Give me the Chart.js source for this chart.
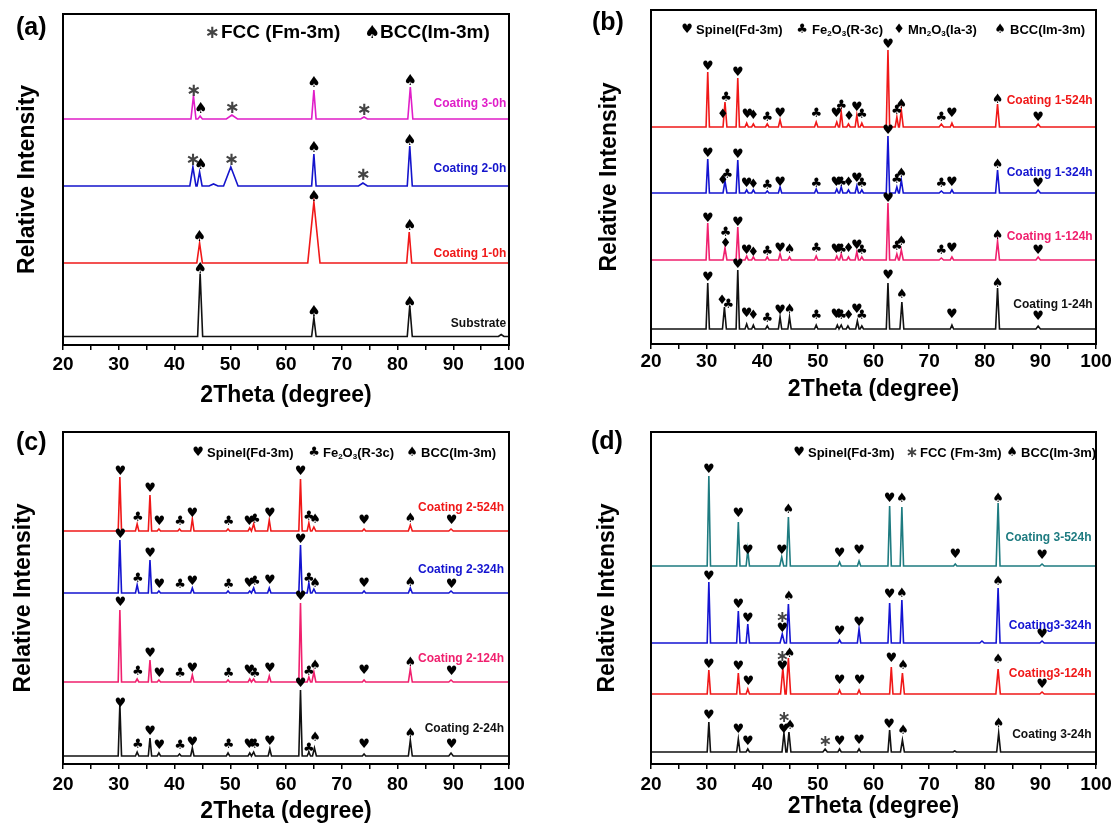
<!DOCTYPE html>
<html lang="en">
<head>
<meta charset="UTF-8">
<title>XRD patterns</title>
<style>
    body { margin: 0; background: #fff; }
    #quadro { position: relative; width: 1116px; height: 828px; background: #fff; }
    canvas { position: absolute; }
</style>
</head>
<body>
<div id="quadro">
    <canvas id="graficoA" width="558" height="414" style="left:0px;top:0px"></canvas>
    <canvas id="graficoB" width="558" height="414" style="left:558px;top:0px"></canvas>
    <canvas id="graficoC" width="558" height="414" style="left:0px;top:414px"></canvas>
    <canvas id="graficoD" width="558" height="414" style="left:558px;top:414px"></canvas>
</div>

<script src="https://cdn.jsdelivr.net/npm/chart.js"></script>
<script>
// ---- dados: [2theta, altura, meia-largura], intensidade em u.a. ----
const xTicks = [20, 30, 40, 50, 60, 70, 80, 90, 100];

// (a)
const aNomes = ['Substrate', 'Coating 1-0h', 'Coating 2-0h', 'Coating 3-0h'];
const aBases = [8.5, 82, 159, 226];
const aSubstrate = [[44.6, 63, 0.45], [65.0, 19, 0.4], [82.2, 31, 0.45], [98.6, 2, 0.5]];
const aC1_0h = [[44.5, 20, 0.5], [65.0, 61, 1.1], [82.1, 31, 0.45]];
const aC2_0h = [[43.3, 19, 0.55], [44.5, 14, 0.45], [47.0, 2, 0.8], [50.1, 19, 1.3], [65.0, 32, 0.4], [73.8, 3, 0.8], [82.2, 40, 0.45]];
const aC3_0h = [[43.4, 23, 0.45], [44.6, 3, 0.4], [50.3, 4, 1.0], [65.0, 29, 0.4], [74.0, 2, 0.6], [82.3, 32, 0.45]];
const aMarcas = [
    ['♠', 44.6, 75.7], ['♠', 65.0, 33.3], ['♠', 82.2, 42.3],
    ['♠', 44.5, 108.3], ['♠', 65.0, 147.7], ['♠', 82.2, 119],
    ['*', 43.3, 185], ['♠', 44.7, 179.7], ['*', 50.2, 185], ['♠', 65.0, 196.7], ['*', 73.8, 170], ['♠', 82.2, 204],
    ['*', 43.4, 254], ['♠', 44.7, 236], ['*', 50.3, 236.7], ['♠', 65.0, 262.3], ['*', 74.0, 234.3], ['♠', 82.3, 264.3]
];
const aRotulosY = [21.7, 91.7, 176.3, 241.7];

// (b)
const bNomes = ['Coating 1-24h', 'Coating 1-124h', 'Coating 1-324h', 'Coating 1-524h'];
const bBases = [15, 84, 151, 217];
const bC24 = [[30.2, 46, 0.3], [33.2, 22, 0.35], [35.6, 59, 0.3], [37.2, 5, 0.3], [38.4, 4, 0.3], [40.9, 3, 0.3], [43.2, 12, 0.3], [44.9, 12, 0.3], [49.7, 4, 0.3], [53.5, 4, 0.3], [54.2, 4, 0.3], [55.4, 3, 0.3], [57.1, 8, 0.3], [57.9, 3, 0.3], [62.6, 46, 0.3], [65.1, 27, 0.35], [74.1, 4, 0.3], [82.3, 41, 0.35], [89.6, 3, 0.4]];
const bC124 = [[30.2, 37, 0.3], [33.3, 12, 0.35], [35.6, 33, 0.3], [37.2, 4, 0.3], [38.4, 3, 0.3], [40.9, 3, 0.3], [43.2, 6, 0.3], [44.9, 3, 0.3], [49.7, 4, 0.3], [53.4, 4, 0.3], [54.2, 6, 0.3], [55.5, 3, 0.3], [57.0, 8, 0.3], [57.9, 3, 0.3], [62.6, 57, 0.3], [64.2, 6, 0.3], [65.0, 10, 0.35], [72.2, 2, 0.4], [74.1, 3, 0.3], [82.3, 19, 0.35], [89.6, 3, 0.4]];
const bC324 = [[30.2, 34, 0.3], [33.3, 12, 0.35], [35.6, 33, 0.3], [37.2, 3, 0.3], [38.4, 3, 0.3], [40.9, 2, 0.3], [43.2, 6, 0.3], [49.7, 4, 0.3], [53.4, 4, 0.3], [54.2, 6, 0.3], [55.5, 3, 0.3], [57.0, 7, 0.3], [57.9, 3, 0.3], [62.6, 57, 0.3], [64.2, 6, 0.3], [65.0, 13, 0.35], [72.2, 2, 0.4], [74.1, 3, 0.3], [82.3, 23, 0.35], [89.6, 3, 0.4]];
const bC524 = [[30.2, 55, 0.3], [33.3, 25, 0.35], [35.6, 49, 0.3], [37.2, 4, 0.3], [38.4, 3, 0.3], [40.9, 3, 0.3], [43.2, 7, 0.3], [49.7, 5, 0.3], [53.4, 5, 0.3], [54.2, 15, 0.3], [55.5, 3, 0.3], [57.0, 12, 0.3], [57.9, 4, 0.3], [62.6, 77, 0.3], [64.2, 10, 0.3], [65.0, 17, 0.35], [72.2, 3, 0.4], [74.1, 4, 0.3], [82.3, 23, 0.35], [89.6, 3, 0.4]];
const bMarcas = [
    ['♥', 30.2, 66.7], ['♦', 32.8, 43.3], ['♣', 33.9, 39], ['♥', 35.6, 79], ['♥', 37.2, 30.7], ['♦', 38.4, 28.3], ['♣', 40.9, 25.7], ['♥', 43.2, 33.3], ['♠', 44.9, 34.7], ['♣', 49.7, 28.3], ['♥', 53.3, 29], ['♣', 54.2, 28], ['♦', 55.5, 28], ['♥', 57.0, 34.7], ['♣', 57.9, 28], ['♥', 62.6, 68], ['♠', 65.1, 49], ['♥', 74.1, 29], ['♠', 82.3, 60], ['♥', 89.6, 27.3],
    ['♥', 30.2, 125.7], ['♣', 33.4, 111.3], ['♦', 33.4, 100.7], ['♥', 35.6, 121.7], ['♥', 37.2, 93.3], ['♦', 38.4, 91.3], ['♣', 40.9, 92.3], ['♥', 43.2, 95], ['♠', 44.9, 94], ['♣', 49.7, 95.3], ['♥', 53.3, 94], ['♣', 54.2, 94.7], ['♦', 55.5, 95], ['♥', 57.0, 98], ['♣', 57.9, 93.3], ['♥', 62.6, 145.7], ['♣', 64.2, 97.3], ['♠', 65.0, 102.3], ['♣', 72.2, 93.3], ['♥', 74.1, 95], ['♠', 82.3, 108], ['♥', 89.6, 93.3],
    ['♥', 30.2, 190.7], ['♦', 32.9, 163.3], ['♣', 33.7, 169], ['♥', 35.6, 189], ['♥', 37.2, 160], ['♦', 38.4, 159], ['♣', 40.9, 158.7], ['♥', 43.2, 161.7], ['♣', 49.7, 160.7], ['♥', 53.3, 161.7], ['♣', 54.2, 161.7], ['♦', 55.5, 161], ['♥', 57.0, 165.7], ['♣', 57.9, 160], ['♥', 62.6, 213], ['♣', 64.2, 164], ['♠', 65.0, 170.7], ['♣', 72.2, 160], ['♥', 74.1, 161.7], ['♠', 82.3, 179.7], ['♥', 89.6, 160],
    ['♥', 30.2, 277.3], ['♦', 32.9, 229.7], ['♣', 33.5, 246.3], ['♥', 35.6, 271.7], ['♥', 37.3, 229.7], ['♦', 38.4, 228.3], ['♣', 40.9, 226.7], ['♥', 43.2, 230.7], ['♣', 49.7, 230.7], ['♥', 53.3, 230], ['♣', 54.2, 238], ['♦', 55.6, 227.3], ['♥', 57.0, 236.3], ['♣', 57.9, 229], ['♥', 62.6, 299], ['♣', 64.2, 233.3], ['♠', 65.0, 239], ['♣', 72.2, 226.7], ['♥', 74.1, 230], ['♠', 82.3, 244.7], ['♥', 89.6, 226.7]
];
const bRotulosY = [39.7, 107.3, 171.3, 243.3];

// (c)
const cNomes = ['Coating 2-24h', 'Coating 2-124h', 'Coating 2-324h', 'Coating 2-524h'];
const cBases = [8, 82, 171, 233];
const cC24 = [[30.2, 52, 0.3], [33.3, 4, 0.3], [35.6, 18, 0.3], [37.2, 3, 0.3], [40.9, 2, 0.3], [43.2, 8, 0.3], [49.6, 3, 0.3], [53.5, 3, 0.3], [54.2, 4, 0.3], [57.1, 7, 0.3], [62.6, 66, 0.3], [64.1, 4, 0.3], [65.1, 8, 0.35], [74.0, 2, 0.3], [82.3, 16, 0.35], [89.6, 3, 0.4]];
const cC124 = [[30.2, 72, 0.3], [33.3, 3, 0.3], [35.6, 22, 0.3], [37.2, 2, 0.3], [43.2, 7, 0.3], [49.6, 2, 0.3], [53.5, 3, 0.3], [54.2, 3, 0.3], [57.0, 6, 0.3], [62.6, 79, 0.3], [64.1, 5, 0.3], [65.0, 10, 0.35], [74.0, 2, 0.3], [82.3, 13, 0.35], [89.6, 2, 0.4]];
const cC324 = [[30.2, 53, 0.3], [33.3, 8, 0.3], [35.6, 33, 0.3], [37.2, 2, 0.3], [43.2, 5, 0.3], [49.6, 2, 0.3], [53.5, 2, 0.3], [54.2, 5, 0.3], [57.0, 5, 0.3], [62.6, 48, 0.3], [64.1, 10, 0.3], [65.0, 4, 0.35], [74.0, 2, 0.3], [82.3, 5, 0.35], [89.6, 2, 0.4]];
const cC524 = [[30.2, 54, 0.3], [33.3, 7, 0.3], [35.6, 36, 0.3], [37.2, 2, 0.3], [40.9, 2, 0.3], [43.2, 12, 0.3], [49.6, 2, 0.3], [53.5, 3, 0.3], [54.2, 7, 0.3], [57.0, 11, 0.3], [62.6, 52, 0.3], [64.1, 8, 0.3], [65.0, 4, 0.35], [74.0, 2, 0.3], [82.3, 6, 0.35], [89.6, 2, 0.4]];
const cPosMarcas = [30.3, 33.4, 35.6, 37.3, 41.0, 43.2, 49.7, 53.4, 54.4, 57.1, 62.6, 64.1, 65.2, 74.0, 82.3, 89.7];
const cSimbolos = ['♥', '♣', '♥', '♥', '♣', '♥', '♣', '♥', '♣', '♥', '♥', '♣', '♠', '♥', '♠', '♥'];
const cAlturasMarcas = [
    [60, 19, 32.3, 18, 18, 21.7, 19, 19.7, 19.7, 22.3, 80, 15.7, 26.3, 19.7, 30.7, 19],
    [161.3, 92.3, 110.7, 90.7, 90.7, 95.7, 90.7, 93.3, 90.7, 95.7, 167.3, 92.3, 98.3, 93, 101.3, 92.3],
    [229.7, 185.7, 210.7, 179.7, 179, 182.3, 179.7, 180.7, 182.3, 183.3, 224.7, 185.7, 180, 180.7, 181.7, 179.7],
    [292.3, 246.7, 275.7, 242.3, 242.3, 250.7, 242.3, 242.3, 244, 250, 292.3, 247.3, 244, 243, 245, 243]
];
const cRotulosY = [35.7, 105.7, 194.7, 256.3];

// (d)
const dNomes = ['Coating 3-24h', 'Coating3-124h', 'Coating3-324h', 'Coating 3-524h'];
const dBases = [12, 70, 121, 198];
const dC24 = [[30.4, 30, 0.3], [35.7, 13, 0.3], [37.4, 3, 0.3], [43.9, 19, 0.35], [44.8, 20, 0.35], [51.3, 3, 0.4], [53.9, 3, 0.3], [57.4, 3, 0.3], [62.9, 22, 0.3], [65.2, 12, 0.35], [74.6, 1, 0.3], [82.5, 19, 0.35]];
const dC124 = [[30.4, 24, 0.3], [35.7, 21, 0.3], [37.4, 5, 0.3], [43.7, 26, 0.4], [44.7, 36, 0.4], [53.9, 4, 0.3], [57.4, 4, 0.3], [63.2, 27, 0.3], [65.2, 21, 0.35], [82.4, 25, 0.4], [90.3, 2, 0.4]];
const dC324 = [[30.4, 61, 0.3], [35.7, 32, 0.3], [37.4, 19, 0.3], [43.6, 9, 0.4], [44.7, 39, 0.35], [53.9, 3, 0.3], [57.4, 14, 0.3], [62.9, 40, 0.3], [65.1, 43, 0.3], [79.5, 2, 0.4], [82.4, 55, 0.35], [90.3, 2, 0.4]];
const dC524 = [[30.4, 90, 0.3], [35.7, 44, 0.3], [37.4, 16, 0.3], [43.5, 9, 0.35], [44.7, 49, 0.35], [53.9, 4, 0.3], [57.4, 5, 0.3], [62.9, 60, 0.3], [65.1, 59, 0.3], [74.7, 2, 0.3], [82.4, 63, 0.35], [90.3, 2, 0.4]];
const dMarcas = [
    ['♥', 30.4, 48.3], ['♥', 35.7, 34], ['♥', 37.4, 22.3], ['*', 43.9, 45.7], ['♥', 43.9, 34.7], ['♠', 45.0, 38], ['*', 51.3, 22.3], ['♥', 53.9, 22.3], ['♥', 57.4, 23], ['♥', 62.8, 39], ['♠', 65.3, 33], ['♠', 82.5, 40.7],
    ['♥', 30.4, 99.7], ['♥', 35.7, 97.3], ['♥', 37.5, 82.3], ['*', 43.6, 107.3], ['♥', 43.6, 97.3], ['♠', 44.9, 110.7], ['♥', 53.9, 83], ['♥', 57.5, 83], ['♥', 63.2, 105.7], ['♠', 65.3, 98], ['♠', 82.4, 104], ['♥', 90.3, 79.7],
    ['♥', 30.4, 187.3], ['♥', 35.7, 159.7], ['♥', 37.4, 145.7], ['*', 43.6, 145.7], ['♥', 43.6, 135.7], ['♠', 44.8, 167.3], ['♥', 53.9, 132.3], ['♥', 57.4, 141.3], ['♥', 62.9, 169], ['♠', 65.1, 170.7], ['♠', 82.4, 182.3], ['♥', 90.3, 129.7],
    ['♥', 30.4, 294], ['♥', 35.7, 250], ['♥', 37.4, 213], ['♥', 43.5, 213], ['♠', 44.7, 254], ['♥', 53.9, 210], ['♥', 57.4, 213], ['♥', 62.9, 265], ['♠', 65.1, 265], ['♥', 74.7, 209], ['♠', 82.4, 265], ['♥', 90.3, 208.3]
];
const dRotulosY = [29, 90, 138, 226.3];

// ---- montagem ----
const fonteTexto = '"Liberation Sans", Arial, sans-serif';
const fonteSimb = '"DejaVu Sans", sans-serif';

// perfil de linha a partir da lista de picos lidos
function perfil(base, picos) {
    let pts = [{ x: 20, y: base }];
    picos.forEach(p => {
        pts.push({ x: p[0] - p[2], y: base });
        pts.push({ x: p[0], y: base + p[1] });
        pts.push({ x: p[0] + p[2], y: base });
    });
    pts.push({ x: 100, y: base });
    return pts;
}

// moldura, marcadores de fase, nomes das curvas, legenda e letra do painel
const anotacoes = {
    id: 'anotacoes',
    afterDraw(chart, args, o) {
        const ctx = chart.ctx;
        const xs = chart.scales.x, ys = chart.scales.y, area = chart.chartArea;
        ctx.save();
        ctx.strokeStyle = '#000';
        ctx.lineWidth = 2;
        ctx.strokeRect(area.left, area.top, area.right - area.left, area.bottom - area.top);

        ctx.textAlign = 'center';
        ctx.textBaseline = 'middle';
        o.marcas.forEach(m => {
            const px = xs.getPixelForValue(m[1]);
            const py = ys.getPixelForValue(m[2]);
            if (m[0] === '*') {
                ctx.fillStyle = '#444';
                ctx.font = 'bold ' + o.tamAst + 'px ' + fonteSimb;
                ctx.fillText('∗', px, py);
            } else {
                ctx.fillStyle = '#000';
                ctx.font = o.tamSimb + 'px ' + fonteSimb;
                ctx.fillText(m[0], px, py);
            }
        });

        ctx.textAlign = 'right';
        ctx.font = 'bold 12px ' + fonteTexto;
        chart.data.datasets.forEach((ds, i) => {
            ctx.fillStyle = ds.borderColor;
            ctx.fillText(ds.label, xs.getPixelForValue(o.xRotulo), ys.getPixelForValue(o.rotulosY[i]));
        });

        // legenda
        o.legenda.forEach(item => {
            const sym = item[0];
            ctx.textAlign = 'center';
            if (sym === '*') {
                ctx.fillStyle = '#444';
                ctx.font = 'bold ' + o.tamAstLeg + 'px ' + fonteSimb;
                ctx.fillText('∗', item[1], o.yLegenda);
            } else {
                ctx.fillStyle = '#000';
                ctx.font = o.tamSimbLeg + 'px ' + fonteSimb;
                ctx.fillText(sym, item[1], o.yLegenda);
            }
            ctx.fillStyle = '#000';
            ctx.textAlign = 'left';
            let x = item[2];
            item[3].forEach(parte => {
                const sub = parte[1];
                const tam = sub ? Math.round(o.tamLeg * 0.62) : o.tamLeg;
                ctx.font = 'bold ' + tam + 'px ' + fonteTexto;
                ctx.fillText(parte[0], x, o.yLegenda + (sub ? o.tamLeg * 0.3 : 0));
                x += ctx.measureText(parte[0]).width;
            });
        });

        ctx.font = 'bold 25px ' + fonteTexto;
        ctx.fillStyle = '#000';
        ctx.textAlign = 'left';
        ctx.fillText(o.letra[0], o.letra[1], o.letra[2]);
        ctx.restore();
    }
};

function criarGrafico(id, nomes, bases, picos, cores, cfg) {
    const datasets = nomes.map((n, i) => ({
        label: n,
        data: perfil(bases[i], picos[i]),
        borderColor: cores[i],
        borderWidth: 1.6,
        pointRadius: 0,
        showLine: true,
        fill: false,
        tension: 0
    }));
    const ctx = document.getElementById(id).getContext('2d');
    new Chart(ctx, {
        type: 'scatter',
        data: { datasets: datasets },
        options: {
            responsive: false,
            animation: false,
            devicePixelRatio: 1,
            layout: { padding: { left: 0, top: cfg.topo, right: cfg.direita, bottom: 0 } },
            plugins: {
                legend: { display: false },
                tooltip: { enabled: false },
                anotacoes: cfg.anot
            },
            scales: {
                x: {
                    type: 'linear', min: 20, max: 100,
                    afterBuildTicks: s => { s.ticks = []; for (let v = 20; v <= 100; v += 5) s.ticks.push({ value: v }); },
                    ticks: {
                        autoSkip: false, maxRotation: 0, color: '#000', padding: cfg.padTick,
                        font: { family: fonteTexto, size: 19, weight: 'bold' },
                        callback: v => xTicks.includes(v) ? String(v) : ''
                    },
                    grid: { display: true, drawOnChartArea: false, drawTicks: true, tickLength: 5, color: '#000', lineWidth: 1.5 },
                    border: { display: true, color: '#000', width: 2 },
                    title: {
                        display: true, text: '2Theta (degree)', color: '#000',
                        font: { family: fonteTexto, size: 23, weight: 'bold' },
                        padding: { top: 0, bottom: cfg.padTituloX }
                    },
                    afterFit: s => { s.height = cfg.altX; }
                },
                y: {
                    min: 0, max: cfg.yMax,
                    ticks: { display: false },
                    grid: { display: false },
                    border: { display: true, color: '#000', width: 2 },
                    title: {
                        display: true, text: 'Relative Intensity', color: '#000',
                        font: { family: fonteTexto, size: 23, weight: 'bold' },
                        padding: { top: cfg.padTituloY, bottom: 0 }
                    },
                    afterFit: s => { s.width = cfg.largY; }
                }
            }
        },
        plugins: [anotacoes]
    });
}

criarGrafico('graficoA', aNomes, aBases, [aSubstrate, aC1_0h, aC2_0h, aC3_0h],
    ['#111111', '#F01818', '#1414CC', '#E01EC8'],
    { topo: 14, direita: 49, altX: 69, largY: 63, yMax: 331, padTick: 3, padTituloX: 5, padTituloY: 14,
      anot: { marcas: aMarcas, tamSimb: 15, tamAst: 18, xRotulo: 99.5, rotulosY: aRotulosY,
              yLegenda: 33, tamLeg: 19, tamSimbLeg: 18, tamAstLeg: 18,
              legenda: [['*', 212, 221, [['FCC (Fm-3m)', 0]]], ['♠', 372, 380, [['BCC(Im-3m)', 0]]]],
              letra: ['(a)', 16, 28] } });

criarGrafico('graficoB', bNomes, bBases, [bC24, bC124, bC324, bC524],
    ['#111111', '#F0206E', '#1414D0', '#F01818'],
    { topo: 10, direita: 20, altX: 70, largY: 93, yMax: 334, padTick: 1, padTituloX: 11, padTituloY: 38,
      anot: { marcas: bMarcas, tamSimb: 13, tamAst: 16, xRotulo: 99.4, rotulosY: bRotulosY,
              yLegenda: 30, tamLeg: 13, tamSimbLeg: 13, tamAstLeg: 15,
              legenda: [['♥', 129, 138, [['Spinel(Fd-3m)', 0]]],
                        ['♣', 244, 254, [['Fe', 0], ['2', 1], ['O', 0], ['3', 1], ['(R-3c)', 0]]],
                        ['♦', 341, 350, [['Mn', 0], ['2', 1], ['O', 0], ['3', 1], ['(Ia-3)', 0]]],
                        ['♠', 442, 452, [['BCC(Im-3m)', 0]]]],
              letra: ['(b)', 34, 23] } });

const cMarcas = [];
cAlturasMarcas.forEach(linha => linha.forEach((h, j) => cMarcas.push([cSimbolos[j], cPosMarcas[j], h])));

criarGrafico('graficoC', cNomes, cBases, [cC24, cC124, cC324, cC524],
    ['#111111', '#F0206E', '#1414D0', '#F01818'],
    { topo: 18, direita: 49, altX: 64, largY: 63, yMax: 332, padTick: 4, padTituloX: 2.5, padTituloY: 10,
      anot: { marcas: cMarcas, tamSimb: 13, tamAst: 16, xRotulo: 99.1, rotulosY: cRotulosY,
              yLegenda: 39, tamLeg: 13, tamSimbLeg: 13, tamAstLeg: 15,
              legenda: [['♥', 198, 207, [['Spinel(Fd-3m)', 0]]],
                        ['♣', 314, 323, [['Fe', 0], ['2', 1], ['O', 0], ['3', 1], ['(R-3c)', 0]]],
                        ['♠', 412, 421, [['BCC(Im-3m)', 0]]]],
              letra: ['(c)', 16, 29] } });

criarGrafico('graficoD', dNomes, dBases, [dC24, dC124, dC324, dC524],
    ['#111111', '#F01818', '#1414D2', '#1E7B80'],
    { topo: 18, direita: 20, altX: 64, largY: 93, yMax: 332, padTick: 4, padTituloX: 7.5, padTituloY: 36,
      anot: { marcas: dMarcas, tamSimb: 13, tamAst: 16, xRotulo: 99.2, rotulosY: dRotulosY,
              yLegenda: 39, tamLeg: 13, tamSimbLeg: 13, tamAstLeg: 15,
              legenda: [['♥', 241, 250, [['Spinel(Fd-3m)', 0]]],
                        ['*', 354, 362, [['FCC (Fm-3m)', 0]]],
                        ['♠', 454, 463, [['BCC(Im-3m)', 0]]]],
              letra: ['(d)', 33, 28] } });
</script>
</body>
</html>
